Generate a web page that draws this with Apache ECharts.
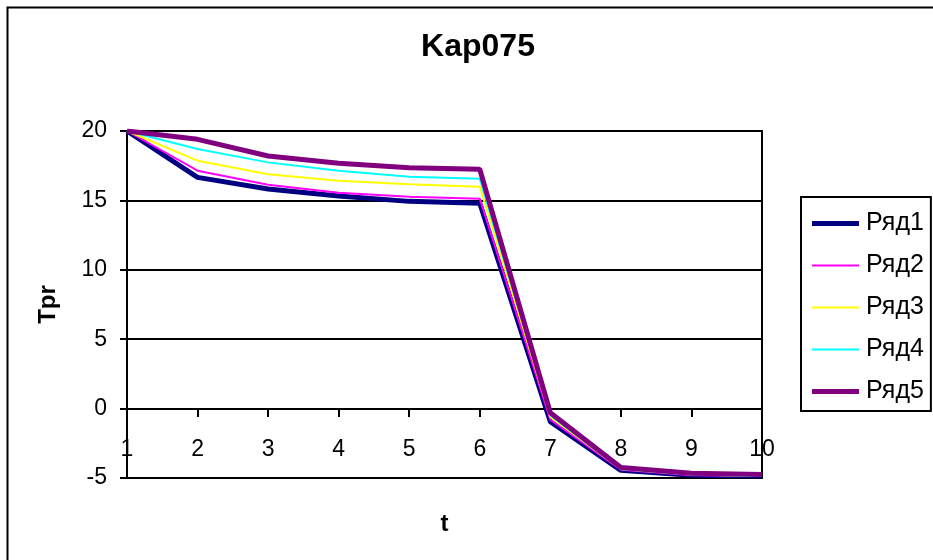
<!DOCTYPE html>
<html>
<head>
<meta charset="utf-8">
<script src="https://cdn.jsdelivr.net/npm/echarts@6/dist/echarts.min.js"></script>
<style>html,body{margin:0;padding:0;background:#fff}#c{width:933px;height:560px}</style>
</head>
<body>
<div id="c"></div>
<script>
var categories = ['1','2','3','4','5','6','7','8','9','10'];
var seriesNames = ['Ряд1','Ряд2','Ряд3','Ряд4','Ряд5'];
var s1 = [20, 16.66, 15.82, 15.32, 14.93, 14.79, -0.95, -4.45, -4.8, -4.85];
var s2 = [20, 17.14, 16.13, 15.55, 15.27, 15.12, -0.8, -4.4, -4.8, -4.85];
var s3 = [20, 17.86, 16.88, 16.42, 16.16, 15.99, -0.6, -4.35, -4.75, -4.85];
var s4 = [20, 18.7, 17.74, 17.14, 16.71, 16.56, -0.5, -4.35, -4.75, -4.85];
var s5 = [20, 19.4, 18.2, 17.67, 17.36, 17.24, -0.3, -4.25, -4.65, -4.75];
var yTicks = [-5, 0, 5, 10, 15, 20];

var colors = ['#000080','#FF00FF','#FFFF00','#00FFFF','#800080'];
var widths = [5, 2, 2, 2, 5];
var values = [s1, s2, s3, s4, s5];
var font = "'Liberation Sans', Arial, sans-serif";
var thickIcon = 'path://M0,0H94V10H0Z';
var thinIcon = 'path://M0,0H94V4H0Z';

var chart = echarts.init(document.getElementById('c'), null, {renderer: 'canvas'});
chart.setOption({
  animation: false,
  backgroundColor: '#fff',
  textStyle: {fontFamily: font},
  title: {
    text: 'Kap075', left: 473, top: 26, textAlign: 'center',
    textStyle: {fontFamily: font, fontSize: 32, fontWeight: 'bold', color: '#000'}
  },
  graphic: [{
    type: 'rect', left: 5, top: 5, shape: {width: 960, height: 600},
    style: {fill: 'none', stroke: '#000', lineWidth: 2}, silent: true, z: -1
  }],
  legend: {
    orient: 'vertical', left: 801, top: 197,
    padding: [14, 7, 7, 11],
    itemWidth: 47, itemHeight: 14, itemGap: 17,
    symbolKeepAspect: true,
    borderColor: '#000', borderWidth: 2,
    textStyle: {fontFamily: font, fontSize: 25, color: '#000', padding: [0,0,0,2]},
    data: seriesNames.map(function(n, i){
      return {name: n, icon: widths[i] > 3 ? thickIcon : thinIcon, itemStyle: {color: colors[i], borderWidth: 0}};
    })
  },
  grid: {left: 127, right: 171, top: 131, bottom: 82, show: true, borderColor: '#000', borderWidth: 2,
         containLabel: false, outerBoundsMode: 'none'},
  xAxis: {
    type: 'category', data: categories, boundaryGap: false,
    offset: -69,
    name: 't', nameLocation: 'middle', nameGap: 103,
    nameTextStyle: {fontFamily: font, fontSize: 24, fontWeight: 'bold', color: '#000'},
    axisLine: {onZero: false, lineStyle: {color: '#000', width: 2}},
    axisTick: {show: true, length: 8, lineStyle: {color: '#000', width: 2}},
    axisLabel: {fontFamily: font, fontSize: 23, color: '#000', margin: 29},
    splitLine: {show: false}
  },
  yAxis: {
    type: 'value', min: yTicks[0], max: yTicks[yTicks.length-1], interval: 5,
    name: 'Tpr', nameLocation: 'middle', nameGap: 67, nameRotate: 90,
    nameTextStyle: {fontFamily: font, fontSize: 24, fontWeight: 'bold', color: '#000'},
    axisLine: {show: true, lineStyle: {color: '#000', width: 2}},
    axisTick: {show: true, length: 7, lineStyle: {color: '#000', width: 2}},
    axisLabel: {fontFamily: font, fontSize: 23, color: '#000', margin: 20},
    splitLine: {show: true, lineStyle: {color: '#000', width: 2}}
  },
  series: values.map(function(v, i){
    return {
      name: seriesNames[i], type: 'line', data: v, symbol: 'none',
      lineStyle: {color: colors[i], width: widths[i]},
      itemStyle: {color: colors[i]}
    };
  })
});
</script>
</body>
</html>
